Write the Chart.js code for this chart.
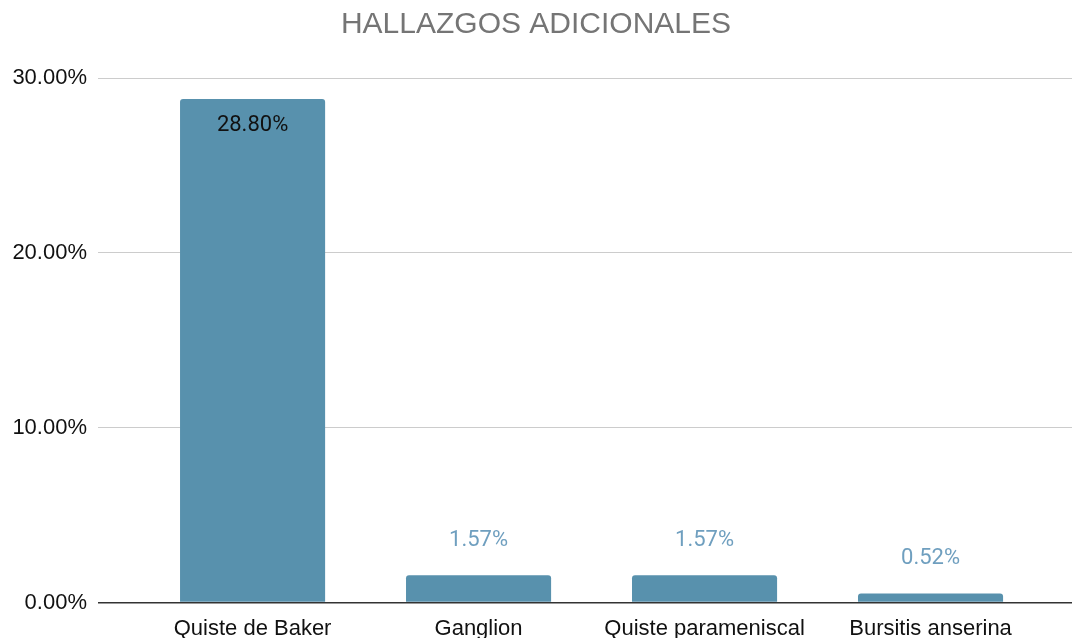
<!DOCTYPE html>
<html>
<head>
<meta charset="utf-8">
<script src="https://cdn.jsdelivr.net/npm/chart.js@4.4.0/dist/chart.umd.min.js"></script>
<style>
    html, body { margin: 0; padding: 0; background: #ffffff; overflow: hidden; }
    #wrap { position: relative; width: 1072px; height: 655px; }
</style>
</head>
<body>
<div id="wrap"><canvas id="chart"></canvas></div>
<script>
// Chart data
const categories = ['Quiste de Baker', 'Ganglion', 'Quiste parameniscal', 'Bursitis anserina'];
const values = [28.80, 1.57, 1.57, 0.52];
const yTicks = [0, 10, 20, 30];

const barColor = '#5891ad';
const labelColor = '#6f9fbf';
const axisFont = 'Liberation Sans';

// Draw value labels on / above the bars
const valueLabels = {
    id: 'valueLabels',
    afterDatasetsDraw(chart) {
        const ctx = chart.ctx;
        const meta = chart.getDatasetMeta(0);
        ctx.save();
        ctx.font = '22px Roboto';
        ctx.textAlign = 'center';
        ctx.textBaseline = 'middle';
        meta.data.forEach((bar, i) => {
            const text = values[i].toFixed(2) + '%';
            const h = bar.base - bar.y;
            if (h > 50) {
                ctx.fillStyle = '#111111';
                ctx.fillText(text, bar.x, bar.y + 27);
            } else {
                ctx.fillStyle = labelColor;
                ctx.fillText(text, bar.x, bar.y - 35);
            }
        });
        ctx.restore();
    },
};

const ctx = document.getElementById('chart').getContext('2d');
new Chart(ctx, {
    type: 'bar',
    data: {
        datasets: [{
            data: categories.map((c, i) => ({ x: i, y: values[i] })),
            backgroundColor: barColor,
            borderRadius: 3,
            barPercentage: 0.642,
            categoryPercentage: 1,
        }],
    },
    options: {
        responsive: true,
        maintainAspectRatio: false,
        animation: false,
        layout: { padding: 0 },
        plugins: {
            legend: { display: false },
            tooltip: { enabled: false },
            title: {
                display: true,
                text: 'HALLAZGOS ADICIONALES',
                color: '#757575',
                font: { family: axisFont, size: 30, weight: 'normal', lineHeight: 1.2 },
                padding: { top: 7, bottom: 35 },
            },
        },
        scales: {
            x: {
                type: 'linear',
                offset: false,
                min: -0.684,
                max: 3.626,
                grid: { display: false, drawTicks: false },
                border: { display: false },
                ticks: {
                    stepSize: 1,
                    includeBounds: false,
                    autoSkip: false,
                    maxRotation: 0,
                    padding: 13,
                    color: '#111111',
                    font: { family: axisFont, size: 22 },
                    callback: (v) => (Number.isInteger(v) && categories[v] !== undefined ? categories[v] : ''),
                },
            },
            y: {
                min: 0,
                max: 30,
                afterFit: (scale) => { scale.width = 98; },
                afterBuildTicks: (scale) => { scale.ticks = yTicks.map((v) => ({ value: v })); },
                grid: {
                    drawTicks: false,
                    color: (c) => (c.tick && c.tick.value === 0 ? '#333333' : '#cccccc'),
                    lineWidth: (c) => (c.tick && c.tick.value === 0 ? 1.5 : 1),
                },
                border: { display: false },
                ticks: {
                    padding: 11,
                    color: '#111111',
                    font: { family: axisFont, size: 22 },
                    callback: (v) => v.toFixed(2) + '%',
                },
            },
        },
    },
    plugins: [valueLabels],
});
</script>
</body>
</html>
